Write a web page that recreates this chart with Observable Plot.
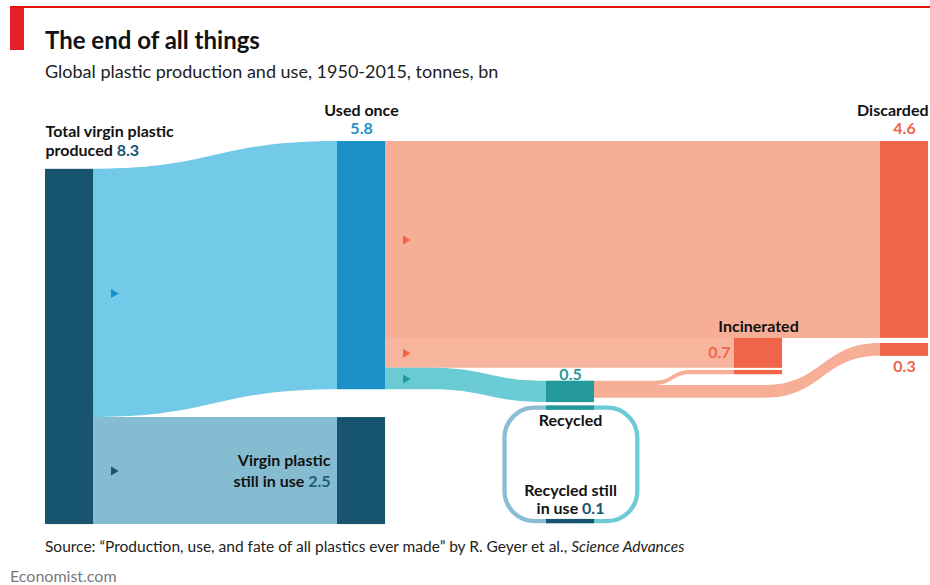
<!DOCTYPE html>
<html><head><meta charset="utf-8">
<script src="https://cdn.jsdelivr.net/npm/d3@7"></script>
<script src="https://cdn.jsdelivr.net/npm/@observablehq/plot@0.6"></script>
<style>
html,body{margin:0;padding:0;background:#fff;}
#page{position:relative;width:930px;height:585px;overflow:hidden;font-family:Lato,"Open Sans",sans-serif;color:#121212;}
#page .t{position:absolute;white-space:nowrap;line-height:1.2;}
#rule{position:absolute;left:10px;top:6px;width:920px;height:1.5px;background:#e3120b;}
#tag{position:absolute;left:10px;top:8px;width:14px;height:42px;background:#e8202a;}
#chart{position:absolute;left:0;top:0;}
</style></head>
<body><div id="page">
<div id="chart"></div>
<div id="rule"></div><div id="tag"></div>
<div class="t" style="left:45px;top:26.3px;font-size:24px;font-weight:700;">The end of all things</div>
<div class="t" style="left:45px;top:61px;font-size:18px;color:#222;">Global plastic production and use, 1950-2015, tonnes, bn</div>
<div class="t" style="left:45px;top:536.7px;font-size:15.5px;color:#222;">Source: “Production, use, and fate of all plastics ever made” by R. Geyer et al., <i>Science Advances</i></div>
<div class="t" style="left:10px;top:566px;font-size:16px;color:#7a7a7a;">Economist.com</div>
</div>
<script>
// ---------------- data ----------------
const nodeNames = ["Total virgin plastic produced", "Used once", "Virgin plastic still in use", "Recycled", "Incinerated", "Discarded", "Recycled still in use"];
const nodeValues = [8.3, 5.8, 2.5, 0.5, 0.7, 4.6, 0.1];
const linkFrom = ["Total virgin plastic produced", "Total virgin plastic produced", "Used once", "Used once", "Used once", "Recycled", "Recycled", "Recycled"];
const linkTo   = ["Used once", "Virgin plastic still in use", "Discarded", "Incinerated", "Recycled", "Incinerated", "Discarded", "Recycled still in use"];
const linkValues = [5.8, 2.5, 4.6, 0.7, 0.5, 0.1, 0.3, 0.1];

// ---------------- layout & style ----------------
const nodeX   = [0, 33.07, 33.07, 56.74, 78.03, 94.56, 56.74];   // column position (% of plot width)
const nodeTop = [0.65, 0, 6.45, 5.6, 4.6, 0, 8.83];              // top of node (value units)
const nodeGap = [0, 0, 0, 0, 0.05, 0.12, 0];                     // gap between inflow bars
const nodeFill = ["#17546e", "#1b90c8", "#17546e", "#23999c", "#f0644a", "#f0644a", "#17546e"];
const linkFill = ["#72c9e8", "#86bcd1", "#f7ae96", "#f8b59e", "#6acbd4", "#f7ae96", "#f7ae96", null];
const linkArrow = ["#1b90c8", "#17546e", "#f0644a", "#f0644a", "#23999c", null, null, null];
const linkBend = [null, null, null, null, [43.6, null], [69.1, 73.0], [81.5, null], null];
const W = 5.44;
const INK = "#121212", DARK = "#17546e", RED = "#f0644a", TEAL = "#23999c", BLUE = "#1b90c8";
const FONT = "Lato";
const LS = 16; // label font size

const idx = n => nodeNames.indexOf(n);
const outOff = nodeTop.slice(), inOff = nodeTop.slice();
const bars = [], points = [], arrows = [];
linkValues.forEach((v, i) => {
  const s = idx(linkFrom[i]), t = idx(linkTo[i]);
  const ys = outOff[s]; outOff[s] += v;
  const yt = inOff[t]; inOff[t] += v + nodeGap[t];
  bars.push({x1: nodeX[t], x2: nodeX[t] + W, y1: yt, y2: yt + v, fill: nodeFill[t]});
  if (!linkFill[i]) return;
  const xs = nodeX[s] + W, xt = nodeX[t];
  const pts = [[xs, ys]];
  const b = linkBend[i];
  if (b && b[0] != null) pts.push([b[0], ys]);
  if (b && b[1] != null) pts.push([b[1], yt]);
  pts.push([xt, yt]);
  pts.forEach(([x, y]) => points.push({id: i, x, y1: y, y2: y + v, fill: linkFill[i]}));
  if (linkArrow[i]) arrows.push({x: xs, y: ys + v / 2, fill: linkArrow[i]});
});
nodeNames.forEach((n, k) => {
  if (!linkTo.includes(n)) bars.push({x1: nodeX[k], x2: nodeX[k] + W, y1: nodeTop[k], y2: nodeTop[k] + nodeValues[k], fill: nodeFill[k]});
});
const rec = idx("Recycled"), recUse = idx("Recycled still in use");
const loopV = linkValues[7];
const loop = {x1: nodeX[rec] - 4.7, x2: nodeX[rec] + W + 4.9, y1: nodeTop[rec] + nodeValues[rec] + 0.13, y2: nodeTop[recUse] + loopV / 2};
const strip = {x1: nodeX[rec], x2: nodeX[rec] + W, y1: loop.y1 - loopV / 2, y2: loop.y1 + loopV / 2, fill: TEAL};

// ---------------- labels ----------------
const fmt = v => v.toFixed(1);
const ctx = document.createElement("canvas").getContext("2d");
function tw(s, size, weight) { ctx.font = `${weight} ${size}px ${FONT}`; return ctx.measureText(s).width; }
const labelMarks = [];
function label(x, y, parts, anchor, dx, dy, size = LS, weight = 700) {
  const widths = parts.map(p => tw(p[0], size, weight));
  const total = d3.sum(widths);
  let start = anchor === "start" ? 0 : anchor === "end" ? -total : -total / 2;
  parts.forEach((p, k) => {
    labelMarks.push(Plot.text([{x, y, t: p[0]}], {x: "x", y: "y", text: "t", textAnchor: "start", lineAnchor: "bottom",
      dx: dx + start, dy, fill: p[1], fontSize: size, fontWeight: weight, fontFamily: FONT}));
    start += widths[k];
  });
}
const src = 0, used = 1, still = 2, inc = 4, disc = 5;
label(nodeX[src], nodeTop[src], [["Total virgin plastic", INK]], "start", 0, -32);
label(nodeX[src], nodeTop[src], [["produced ", INK], [fmt(nodeValues[src]), DARK]], "start", 0, -13);
label(nodeX[used] + W / 2, nodeTop[used], [["Used once", INK]], "middle", 0, -26);
label(nodeX[used] + W / 2, nodeTop[used], [[fmt(nodeValues[used]), BLUE]], "middle", 0, -8);
label(nodeX[disc] + W, nodeTop[disc], [["Discarded", INK]], "end", 0, -26);
label(nodeX[disc] + W / 2, nodeTop[disc], [[fmt(nodeValues[disc]), RED]], "middle", 0, -8);
label(nodeX[inc] + W / 2, nodeTop[inc], [["Incinerated", INK]], "middle", 0, -6);
label(nodeX[inc], nodeTop[inc], [[fmt(nodeValues[inc]), RED]], "end", -4, 20);
label(nodeX[disc] + W / 2, nodeValues[disc] + nodeGap[disc] + linkValues[6], [[fmt(linkValues[6]), RED]], "middle", 0, 16);
label(nodeX[rec] + W / 2, nodeTop[rec], [[fmt(nodeValues[rec]), TEAL]], "middle", 0, -1.5);
label(nodeX[rec] + W / 2, nodeTop[rec] + nodeValues[rec], [["Recycled", INK]], "middle", 0, 23);
label(nodeX[recUse] + W / 2, nodeTop[recUse], [["Recycled still", INK]], "middle", 0, -23);
label(nodeX[recUse] + W / 2, nodeTop[recUse], [["in use ", INK], [fmt(nodeValues[recUse]), DARK]], "middle", 0, -5);
const stillMid = nodeTop[still] + nodeValues[still] / 2;
label(nodeX[still], stillMid, [["Virgin plastic", INK]], "end", -7, -4.6);
label(nodeX[still], stillMid, [["still in use ", INK], [fmt(nodeValues[still]), "#1a5f7a"]], "end", -7, 16.4);

// ---------------- plot ----------------
const chart = Plot.plot({
  width: 930, height: 585, margin: 0,
  x: {domain: [0, 100], range: [45, 928], axis: null},
  y: {domain: [0, 10], range: [141, 569], axis: null},
  color: {type: "identity"},
  style: {background: "transparent", fontFamily: FONT, overflow: "visible"},
  marks: [
    Plot.area(points, {x1: "x", y1: "y1", y2: "y2", z: "id", fill: "fill", curve: "bump-x"}),
    Plot.rect([loop], {x1: "x1", x2: "x2", y1: "y1", y2: "y2", fill: "none", stroke: "url(#loopGrad)", strokeWidth: 4.3, rx: 30}),
    Plot.rect(bars, {x1: "x1", x2: "x2", y1: "y1", y2: "y2", fill: "fill"}),
    Plot.rect([strip], {x1: "x1", x2: "x2", y1: "y1", y2: "y2", fill: "fill"}),
    Plot.dot(arrows, {x: "x", y: "y", fill: "fill", symbol: "triangle", r: 3.3, rotate: 90, dx: 20}),
    ...labelMarks
  ]
});
const defs = d3.select(chart).insert("defs", ":first-child");
const grad = defs.append("linearGradient").attr("id", "loopGrad").attr("x1", 0).attr("x2", 1).attr("y1", 0).attr("y2", 0);
grad.append("stop").attr("offset", 0.5).attr("stop-color", "#88bdd3");
grad.append("stop").attr("offset", 0.5).attr("stop-color", "#6ccbd7");
document.getElementById("chart").appendChild(chart);
</script>
</body></html>
